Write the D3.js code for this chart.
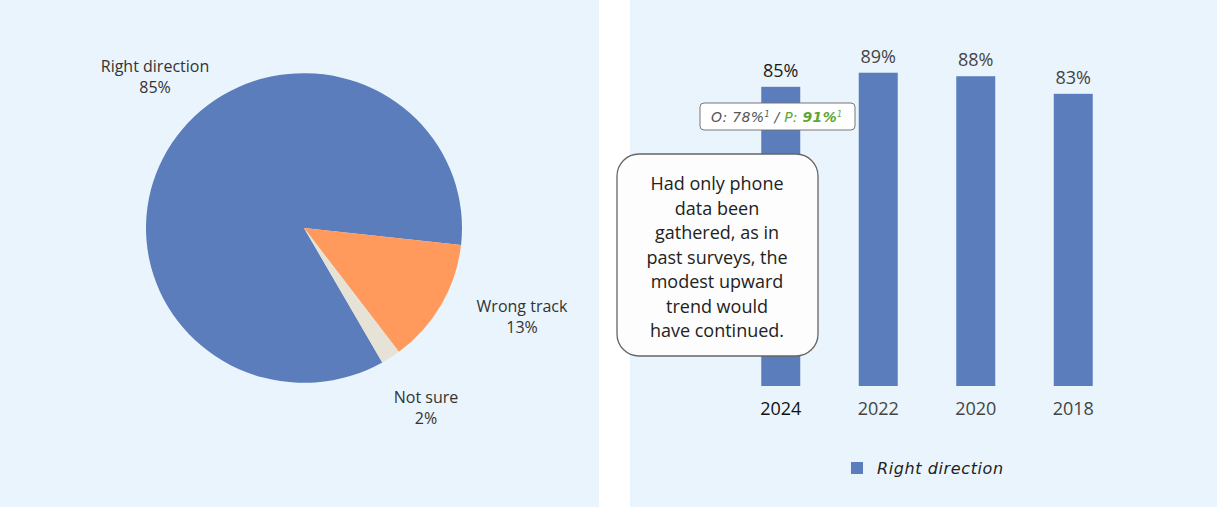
<!DOCTYPE html>
<html><head><meta charset="utf-8">
<script src="https://cdn.jsdelivr.net/npm/d3@7"></script>
<style>body{margin:0;background:#fff}svg{display:block}</style>
</head><body>
<svg id="c" width="1217" height="507"></svg>
<script>
const pieCategories = ["Right direction", "Wrong track", "Not sure"];
const pieValues = [85, 13, 2];
const pieColors = ["#5b7dbb", "#ff9a5c", "#e6e2d6"];
const barYears = ["2024", "2022", "2020", "2018"];
const barValues = [85, 89, 88, 83];
const calloutLines = ["Had only phone", "data been", "gathered, as in", "past surveys, the", "modest upward", "trend would", "have continued."];
const legendLabel = "Right direction";

const svg = d3.select("#c");
const font = "'Open Sans', 'Noto Sans', sans-serif";
const bg = "#eaf4fc";
svg.append("rect").attr("x",0).attr("y",0).attr("width",599).attr("height",507).attr("fill",bg);
svg.append("rect").attr("x",630).attr("y",0).attr("width",587).attr("height",507).attr("fill",bg);

// Pie
const cx = 304, cy = 228, r = 158;
const pie = d3.pie().sort(null).value(d => d)
  .startAngle(150.3 * Math.PI / 180).endAngle(150.3 * Math.PI / 180 + 2 * Math.PI);
const arcs = pie(pieValues);
const arc = d3.arc().innerRadius(0).outerRadius(r);
const pg = svg.append("g").attr("transform", `translate(${cx},${cy}) scale(1,0.98)`);
pg.selectAll("path").data(arcs).join("path").attr("d", arc).attr("fill", (d,i) => pieColors[i]);

const pieLabelPos = [[155, 72], [522, 312], [426, 403]];
pieCategories.forEach((c, i) => {
  const t = svg.append("text").attr("x", pieLabelPos[i][0]).attr("y", pieLabelPos[i][1])
    .attr("text-anchor","middle").attr("font-family",font).attr("font-size",16).attr("fill","#333");
  t.append("tspan").attr("x", pieLabelPos[i][0]).text(c);
  t.append("tspan").attr("x", pieLabelPos[i][0]).attr("dy", 21).text(pieValues[i] + "%");
});

// Bars
const x = d3.scaleBand().domain(barYears).range([732, 1122]).paddingInner(0.6).paddingOuter(0.3);
const y = d3.scaleLinear().domain([0, 100]).range([386, 34]);
svg.append("g").selectAll("rect").data(barValues).join("rect")
  .attr("x", (d,i) => x(barYears[i])).attr("width", x.bandwidth())
  .attr("y", d => y(d)).attr("height", d => y(0) - y(d)).attr("fill", "#5b7dbb");
svg.append("g").selectAll("text").data(barValues).join("text")
  .attr("x", (d,i) => x(barYears[i]) + x.bandwidth()/2).attr("y", d => y(d) - 10)
  .attr("text-anchor","middle").attr("font-family",font).attr("font-size",18)
  .attr("fill", (d,i) => i === 0 ? "#1a1a1a" : "#444").text(d => d + "%");
const xAxis = svg.append("g").attr("transform", `translate(0,${y(0)})`).call(d3.axisBottom(x).tickSize(0).tickPadding(16));
xAxis.select(".domain").remove();
xAxis.selectAll("text").attr("font-family",font).attr("font-size",18)
  .attr("fill", (d,i) => i === 0 ? "#111" : "#444");

// Small annotation box
svg.append("rect").attr("x",700).attr("y",103).attr("width",155).attr("height",27).attr("rx",4)
  .attr("fill","#fff").attr("stroke","#777").attr("stroke-width",1);
const at = svg.append("text").attr("x",711).attr("y",122).attr("font-family","'DejaVu Sans', sans-serif")
  .attr("font-style","italic").attr("font-size",14).attr("letter-spacing",0.3);
at.append("tspan").attr("fill","#555").text("O: 78%");
at.append("tspan").attr("fill","#555").attr("font-size",8).attr("dy",-5).text("1");
at.append("tspan").attr("fill","#555").attr("dy",5).text(" / ");
at.append("tspan").attr("fill","#5ea832").text("P: ");
at.append("tspan").attr("fill","#5ea832").attr("font-weight","bold").text("91%");
at.append("tspan").attr("fill","#5ea832").attr("font-size",8).attr("dy",-5).text("1");

// Callout
svg.append("rect").attr("x",617).attr("y",154).attr("width",201).attr("height",202).attr("rx",22)
  .attr("fill","#fdfdfd").attr("stroke","#666").attr("stroke-width",1.3);
const ct = svg.append("text").attr("text-anchor","middle").attr("font-family",font).attr("font-size",18).attr("fill","#222");
calloutLines.forEach((l, i) => ct.append("tspan").attr("x",717).attr("y",190 + i*24.5).text(l));

// Legend
svg.append("rect").attr("x",851).attr("y",462).attr("width",12).attr("height",12).attr("fill","#5b7dbb");
svg.append("text").attr("x",877).attr("y",474).attr("font-family","'DejaVu Sans', sans-serif")
  .attr("font-style","italic").attr("font-size",16).attr("letter-spacing",0.6).attr("fill","#222").text(legendLabel);
</script>
</body></html>
